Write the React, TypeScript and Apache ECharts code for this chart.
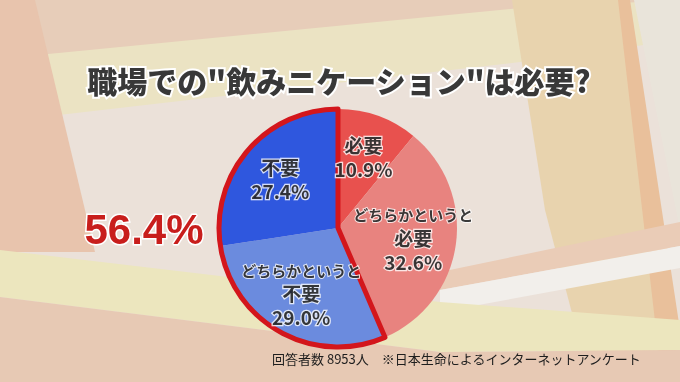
import React, { useEffect, useRef } from "react";
import * as echarts from "echarts";

const categories = ["必要", "どちらかというと必要", "どちらかというと不要", "不要"];
const values = [10.9, 32.6, 29.0, 27.4];
const sliceColors = ["#E8514E", "#E8837F", "#6B8BDE", "#2F57DE"];
const titleText = '職場での"飲みニケーション"は必要?';
const noteText = "回答者数 8953人　※日本生命によるインターネットアンケート";
const prefix = "どちらかというと";

export default function App() {
  const ref = useRef<HTMLDivElement>(null);
  useEffect(() => {
    if (!ref.current) return;
    const chart = echarts.init(ref.current, null, { renderer: "svg" });
    const total = values.reduce((a, b) => a + b, 0);
    const needSum = values[0] + values[1];
    const noSum = values[2] + values[3];
    const center = [338, 228];
    const R = 119;
    const labelR = 76;
    const jp = '"Noto Sans CJK JP", "Noto Sans", sans-serif';

    let acc = 0;
    const labelPoints = values.map((v, i) => {
      const mid = acc + v / 2;
      acc += v;
      return { name: categories[i], value: [labelR, mid], pct: v };
    });

    const bg: any[] = [
      { type: "rect", shape: { x: 0, y: 0, width: 680, height: 382 }, style: { fill: "#EBE1D9" } },
      { type: "polygon", shape: { points: [[0, 0], [680, 0], [680, 14], [0, 58]] }, style: { fill: "#E7CDB9" } },
      { type: "polygon", shape: { points: [[38, 55], [520, 8], [680, 0], [680, 40], [520, 62], [50, 116]] }, style: { fill: "#EBE3C3" } },
      { type: "polygon", shape: { points: [[0, 0], [35, 0], [95, 252], [0, 252]] }, style: { fill: "#E8C4AD" } },
      { type: "polygon", shape: { points: [[512, 0], [620, 0], [668, 382], [590, 382], [545, 210]] }, style: { fill: "#E8D3AE" } },
      { type: "polygon", shape: { points: [[618, 0], [630, 0], [680, 330], [672, 382], [662, 382]] }, style: { fill: "#E9C09B" } },
      { type: "polygon", shape: { points: [[634, 0], [680, 0], [680, 230]] }, style: { fill: "#E9E4DA" } },
      { type: "polygon", shape: { points: [[440, 272], [680, 222], [680, 246], [440, 290]] }, style: { fill: "#EACCB7" } },
      { type: "polygon", shape: { points: [[440, 290], [680, 246], [680, 268], [440, 312]] }, style: { fill: "#F2EFEB" } },
      { type: "polygon", shape: { points: [[0, 250], [440, 302], [680, 320], [680, 350], [440, 352], [0, 297]] }, style: { fill: "#ECE6BE" } },
      { type: "polygon", shape: { points: [[0, 297], [440, 352], [680, 350], [680, 382], [0, 382]] }, style: { fill: "#E7C9B4" } },
    ].map((g) => ({ ...g, z: -10, silent: true }));

    const option: any = {
      animation: false,
      polar: { center, radius: R },
      angleAxis: {
        type: "value",
        min: 0,
        max: total,
        startAngle: 90,
        clockwise: true,
        show: false,
      },
      radiusAxis: { type: "value", min: 0, max: R, show: false },
      graphic: [
        ...bg,
        {
          type: "text",
          x: 339,
          y: 80,
          z: 10,
          style: {
            text: titleText,
            font: `900 30px ${jp}`,
            fill: "#383838",
            stroke: "#FFFFFF",
            lineWidth: 4,
            align: "center",
            verticalAlign: "middle",
            shadowColor: "rgba(0,0,0,0.35)",
            shadowBlur: 3,
            shadowOffsetY: 2,
          },
        },
        {
          type: "text",
          x: 144,
          y: 229,
          z: 10,
          style: {
            text: noSum.toFixed(1) + "%",
            font: 'bold 42px "Liberation Sans", Arial, sans-serif',
            fill: "#C81E1C",
            stroke: "#FFFFFF",
            lineWidth: 3,
            align: "center",
            verticalAlign: "middle",
          },
        },
        {
          type: "text",
          x: 272,
          y: 358,
          z: 10,
          style: {
            text: noteText,
            font: `13px ${jp}`,
            fill: "#1E1E1E",
            align: "left",
            verticalAlign: "middle",
          },
        },
      ],
      series: [
        {
          type: "pie",
          center,
          radius: [0, R],
          startAngle: 90,
          clockwise: true,
          silent: true,
          z: 2,
          label: { show: false },
          labelLine: { show: false },
          data: categories.map((c, i) => ({
            name: c,
            value: values[i],
            itemStyle: { color: sliceColors[i], borderWidth: 0 },
          })),
        },
        {
          type: "pie",
          center,
          radius: [0, R],
          startAngle: 90,
          clockwise: true,
          silent: true,
          z: 3,
          label: { show: false },
          labelLine: { show: false },
          data: [
            { name: "need", value: needSum, itemStyle: { color: "rgba(0,0,0,0)", borderWidth: 0 } },
            {
              name: "no",
              value: noSum,
              itemStyle: { color: "rgba(0,0,0,0)", borderColor: "#D3161C", borderWidth: 5 },
            },
          ],
        },
        {
          type: "scatter",
          coordinateSystem: "polar",
          symbolSize: 0,
          silent: true,
          z: 5,
          label: {
            show: true,
            position: "inside",
            formatter: (p: any) => {
              const v = Number(p.data.pct).toFixed(1) + "%";
              const name: string = p.name;
              if (name.startsWith(prefix)) {
                return `{s|${prefix}}\n{b|${name.slice(prefix.length)}}\n{b|${v}}`;
              }
              return `{b|${name}}\n{b|${v}}`;
            },
            rich: {
              s: {
                fontFamily: jp,
                fontSize: 15,
                fontWeight: "bold",
                color: "#0A0A0A",
                textBorderColor: "#FFFFFF",
                textBorderWidth: 2,
                lineHeight: 21,
              },
              b: {
                fontFamily: jp,
                fontSize: 19,
                fontWeight: "bold",
                color: "#0A0A0A",
                textBorderColor: "#FFFFFF",
                textBorderWidth: 2.5,
                lineHeight: 24,
              },
            },
          },
          data: labelPoints,
        },
      ],
    };
    chart.setOption(option);
    return () => chart.dispose();
  }, []);
  return (
    <div
      ref={ref}
      style={{ position: "fixed", left: 0, top: 0, width: 680, height: 382 }}
    />
  );
}
